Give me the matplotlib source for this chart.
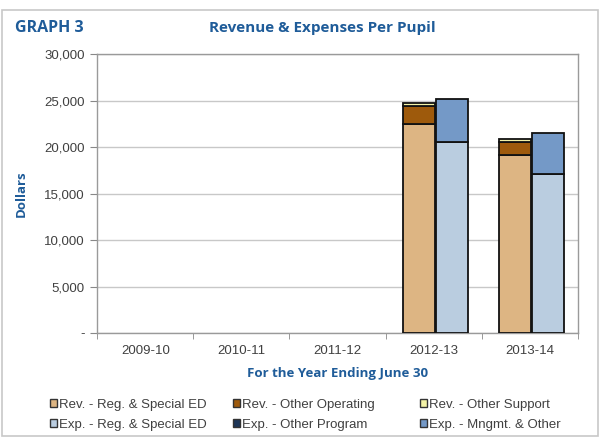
import numpy as np
import matplotlib.pyplot as plt
from matplotlib.patches import Rectangle
from matplotlib.ticker import FuncFormatter

# Per-pupil figures by fiscal year
years = ["2009-10", "2010-11", "2011-12", "2012-13", "2013-14"]
rev_reg_sped = [0, 0, 0, 22450, 19100]
rev_other_oper = [0, 0, 0, 2000, 1400]
rev_other_support = [0, 0, 0, 250, 400]
exp_reg_sped = [0, 0, 0, 20550, 17150]
exp_other_program = [0, 0, 0, 0, 0]
exp_mngmt_other = [0, 0, 0, 4600, 4380]

rev_labels = ["Rev. - Reg. & Special ED", "Rev. - Other Operating", "Rev. - Other Support"]
exp_labels = ["Exp. - Reg. & Special ED", "Exp. - Other Program", "Exp. - Mngmt. & Other"]
rev_colors = ["#DDB583", "#9E5A0C", "#F3F2A6"]
exp_colors = ["#BACDE0", "#1D3557", "#7499C7"]

blue = "#1F5C99"
grey_txt = "#404040"

fig = plt.figure(figsize=(6, 4.37), dpi=100)
fig.patches.append(Rectangle((0.003, 0.003), 0.994, 0.975, transform=fig.transFigure,
                             fill=False, edgecolor="#C8C8C8", lw=1.2))

ax = fig.add_axes([0.162, 0.238, 0.801, 0.638])
x = np.arange(len(years))
w = 0.335

def stack(offset, series, colors):
    bottom = np.zeros(len(years))
    for vals, c in zip(series, colors):
        vals = np.array(vals, dtype=float)
        mask = vals > 0
        ax.bar(x[mask] + offset, vals[mask], w, bottom=bottom[mask], color=c,
               edgecolor="#111111", linewidth=1.3, zorder=3)
        bottom += vals

stack(-0.15, [rev_reg_sped, rev_other_oper, rev_other_support], rev_colors)
stack(0.19, [exp_reg_sped, exp_other_program, exp_mngmt_other], exp_colors)

ax.set_xlim(-0.5, len(years) - 0.5)
ax.set_ylim(0, 30000)
ax.set_yticks(np.arange(0, 30001, 5000))
ax.yaxis.set_major_formatter(FuncFormatter(lambda v, p: "-" if v == 0 else f"{v:,.0f}"))
ax.set_xticks(x)
ax.set_xticklabels(years)
ax.set_xticks(np.arange(-0.5, len(years)), minor=True)
ax.tick_params(axis="x", which="major", length=0, pad=9)
ax.tick_params(axis="x", which="minor", length=4, color="#888888")
ax.tick_params(axis="y", length=5, color="#888888", pad=4)
for lab in ax.get_xticklabels() + ax.get_yticklabels():
    lab.set_fontfamily("Liberation Sans")
    lab.set_fontsize(9.5)
    lab.set_color(grey_txt)

ax.grid(axis="y", color="#C8C8C8", lw=1.0, zorder=0)
for s in ax.spines.values():
    s.set_color("#9A9A9A")
    s.set_linewidth(1.0)

ax.set_ylabel("Dollars", fontfamily="Open Sans", fontweight="bold", fontsize=9.5,
              color=blue, labelpad=12)
ax.set_xlabel("For the Year Ending June 30", fontfamily="Open Sans", fontweight="bold",
              fontsize=9.5, color=blue, labelpad=7)

fig.text(0.025, 0.935, "GRAPH 3", fontfamily="Open Sans", fontweight="bold",
         fontsize=11.5, color=blue, va="center")
fig.text(0.537, 0.935, "Revenue & Expenses Per Pupil", fontfamily="Open Sans",
         fontweight="bold", fontsize=11, color=blue, va="center", ha="center")

# legend: one column per pair, revenue on top, expense below
col_x = [50 / 600, 233 / 600, 420 / 600]
for cx, rc, rl, ec, el in zip(col_x, rev_colors, rev_labels, exp_colors, exp_labels):
    handles = [Rectangle((0, 0), 1, 1, fc=rc, ec="#333333", lw=1.0),
               Rectangle((0, 0), 1, 1, fc=ec, ec="#333333", lw=1.0)]
    leg = fig.legend(handles, [rl, el], loc="upper left", bbox_to_anchor=(cx, 0.087),
                     frameon=False, borderpad=0, borderaxespad=0,
                     handlelength=0.55, handleheight=0.55, handletextpad=0.15,
                     labelspacing=0.6, prop={"family": "Liberation Sans", "size": 9.5})
    for t in leg.get_texts():
        t.set_color(grey_txt)

fig.savefig("out.png", dpi=100)
